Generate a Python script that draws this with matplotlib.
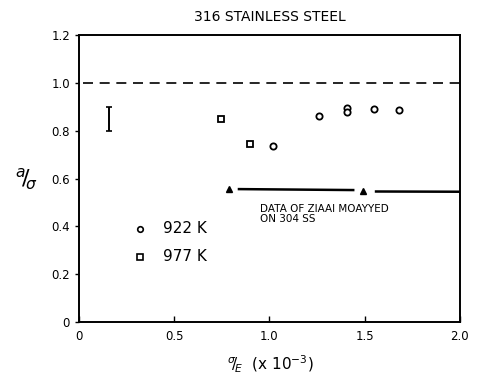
import matplotlib
matplotlib.use("Agg")
import matplotlib.pyplot as plt

# 922 K (circles)
x_922 = [1.02, 1.26, 1.405, 1.405, 1.55, 1.68]
y_922 = [0.735, 0.862, 0.897, 0.878, 0.892, 0.887]
# 977 K (squares)
x_977 = [0.745, 0.90]
y_977 = [0.849, 0.746]
# Ziaai Moayyed data on 304 SS
x_tri = [0.79, 1.49]
y_tri = [0.556, 0.548]
seg_x = [[0.84, 1.44], [1.56, 2.0]]
seg_y = [[0.556, 0.552], [0.546, 0.545]]
# representative error bar
err_x = 0.158
err_lo, err_hi = 0.80, 0.898

plt.rcParams['font.family'] = ['DejaVu Sans']

fig = plt.figure(figsize=(4.82, 3.82), dpi=100)
ax = fig.add_axes([0.164, 0.157, 0.790, 0.751])

ax.plot([0.02, 2.0], [1.0, 1.0], 'k--', lw=1.2, dashes=(6, 4))
ax.plot(x_922, y_922, 'o', ms=4.5, mfc='white', mec='black', mew=1.3, ls='none')
ax.plot(x_977, y_977, 's', ms=4.5, mfc='white', mec='black', mew=1.3, ls='none')
ax.plot(x_tri, y_tri, '^', ms=5, color='black', ls='none')
for sx, sy in zip(seg_x, seg_y):
    ax.plot(sx, sy, 'k-', lw=1.8)

ax.errorbar([err_x], [(err_lo + err_hi) / 2], yerr=[[(err_hi - err_lo) / 2]],
            fmt='none', ecolor='black', elinewidth=1.4, capsize=2.5, capthick=1.2)

# legend drawn by hand
ax.plot([0.32], [0.39], 'o', ms=4, mfc='white', mec='black', mew=1.2)
ax.plot([0.32], [0.273], 's', ms=4, mfc='white', mec='black', mew=1.2)
ax.text(0.44, 0.39, '922 K', fontsize=11, va='center')
ax.text(0.44, 0.273, '977 K', fontsize=11, va='center')

ax.text(0.95, 0.495, 'DATA OF ZIAAI MOAYYED\nON 304 SS', fontsize=7.5,
        va='top', ha='left', linespacing=1.1)

ax.set_xlim(0, 2.0)
ax.set_ylim(0, 1.2)
ax.set_xticks([0, 0.5, 1.0, 1.5, 2.0])
ax.set_xticklabels(['0', '0.5', '1.0', '1.5', '2.0'])
ax.set_yticks([0, 0.2, 0.4, 0.6, 0.8, 1.0, 1.2])
ax.set_yticklabels(['0', '0.2', '0.4', '0.6', '0.8', '1.0', '1.2'])
ax.tick_params(axis='x', labelsize=8.5, direction='in', length=4, width=1, pad=6)
ax.tick_params(axis='y', labelsize=8.5, direction='out', length=3, width=1)
for s in ax.spines.values():
    s.set_linewidth(1.4)

fig.text(0.56, 0.955, '316 STAINLESS STEEL', ha='center', va='center', fontsize=10)
fig.text(0.055, 0.53, r'$^{a}\!/\!_{\sigma}$', ha='center', va='center', fontsize=16)
fig.text(0.56, 0.045, r'$^{\sigma}\!/\!_{E}$  (x 10$^{-3}$)', ha='center', va='center', fontsize=11)

fig.savefig('out.png', dpi=100)
